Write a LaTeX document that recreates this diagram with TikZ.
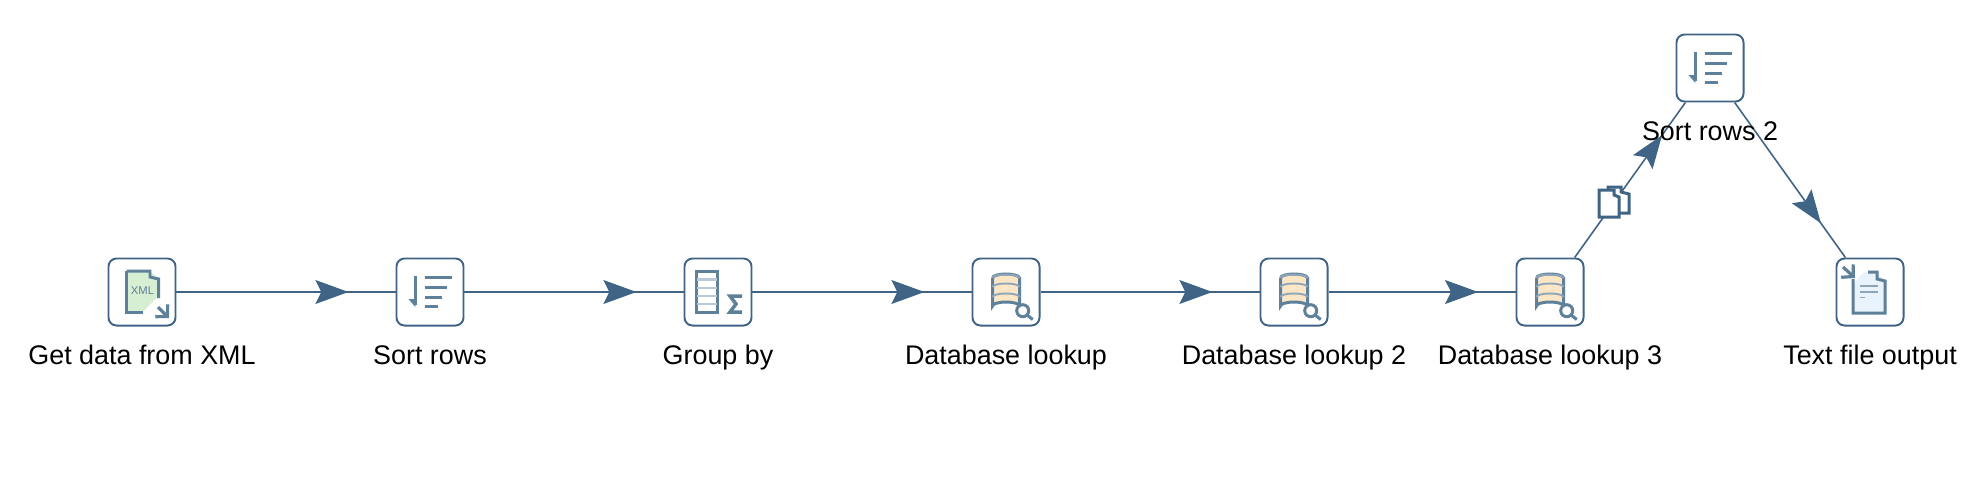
\documentclass[tikz,border=0pt]{standalone}
\usepackage{fontspec}
\setmainfont{Liberation Sans}
\usetikzlibrary{arrows.meta,decorations.markings}

\definecolor{stepblue}{HTML}{3F6485}
\definecolor{iconblue}{HTML}{5E8099}
\definecolor{iconpale}{HTML}{B9C9D6}
\definecolor{xmlgreen}{HTML}{D6EFD3}
\definecolor{dbcream}{HTML}{FCE6C6}
\definecolor{txtpale}{HTML}{E9F3FB}

\tikzset{
  stepbox/.style={draw=stepblue, line width=0.55pt, fill=white, rounded corners=2.3pt,
    minimum size=0.67cm, inner sep=0pt},
  steplabel/.style={anchor=base, inner sep=0pt, font=\fontsize{7.65}{9}\selectfont},
  hop/.style={draw=stepblue, line width=0.45pt, postaction={decorate},
    decoration={markings, mark=at position #1 with
      {\arrow[stepblue]{Stealth[length=9.4pt, width=6.8pt, inset=1.7pt]}}}},
  hop/.default=0.785,
  iconline/.style={draw=iconblue, line width=0.85pt},
  iconthin/.style={draw=iconblue!70, line width=0.55pt},
  sorticon/.pic={
    \draw[iconline] (-14.7,-16) -- (-14.7,13);
    \fill[iconblue] (-21.5,7) -- (-14.7,7) -- (-14.7,15) -- cycle;
    \draw[iconline] (-5,-14.3) -- (21.7,-14.3);
    \draw[iconline] (-5,-4.7) -- (16.7,-4.7);
    \draw[iconline] (-5,5) -- (11.7,5);
    \draw[iconline] (-5,14.7) -- (7.7,14.7);
  },
  dbicon/.pic={
    \fill[dbcream] (-13.5,-14) -- (-13.5,14) arc[start angle=180, end angle=360, x radius=13.5, y radius=4]
      -- (13.5,-14) arc[start angle=0, end angle=-180, x radius=13.5, y radius=4];
    \draw[iconline] (-13.5,-14) -- (-13.5,14) arc[start angle=180, end angle=360, x radius=13.5, y radius=4]
      -- (13.5,-14) arc[start angle=0, end angle=-180, x radius=13.5, y radius=4];
    \draw[iconthin] (-13.5,-14) arc[start angle=180, end angle=360, x radius=13.5, y radius=3.5];
    \draw[iconthin] (-13.5,-5) arc[start angle=180, end angle=360, x radius=13.5, y radius=3.5];
    \draw[iconthin] (-13.5,5) arc[start angle=180, end angle=360, x radius=13.5, y radius=3.5];
    \draw[iconline, fill=white] (16.7,18.7) circle (6);
    \draw[iconline] (21,23) -- (26.7,27.5);
  },
  copyicon/.pic={
    \draw[stepblue, line width=0.85pt, fill=white] (-6,-15) -- (7,-15) -- (7,-10) -- (15,-8) -- (15,11) -- (-6,11) -- cycle;
    \draw[stepblue, line width=0.85pt, fill=white] (-15,-12) -- (0,-12) -- (0,-7) -- (5,-5) -- (5,15) -- (-15,15) -- cycle;
  },
}

\begin{document}
\begin{tikzpicture}[x=0.01cm, y=-0.01cm]
\useasboundingbox (0,0) rectangle (1976,484);

\def\ya{68}
\def\yb{292}
\def\yc{364}

\node[stepbox](xml) at (142, \yb) {};
\node[stepbox](sorta) at (430, \yb) {};
\node[stepbox](groupby) at (718, \yb) {};
\node[stepbox](dba) at (1006, \yb) {};
\node[stepbox](dbb) at (1294, \yb) {};
\node[stepbox](dbc) at (1550, \yb) {};
\node[stepbox](sortb) at (1710, \ya) {};
\node[stepbox](txt) at (1870, \yb) {};

\draw[hop] (xml) -- (sorta);
\draw[hop] (sorta) -- (groupby);
\draw[hop] (groupby) -- (dba);
\draw[hop] (dba) -- (dbb);
\draw[hop=0.80] (dbb) -- (dbc);
\draw[hop=0.79] (dbc) -- (sortb);
\draw[hop=0.78] (sortb) -- (txt);

\coordinate (copy) at (1614, 202);
\pic at (copy) {copyicon};

% xml input
\fill[xmlgreen] (127,271) -- (150,271) -- (158.5,279) -- (158.5,296) -- (142,312.5) -- (127,312.5) -- cycle;
\draw[iconline] (126.7,271) -- (126.7,312.7) -- (143,312.7);
\draw[iconline] (126.7,271) -- (150,271) -- (150,277) -- (158.7,279) -- (158.7,298);
\node[inner sep=0pt, text=iconblue, font=\fontsize{3.2}{4}\selectfont](xmltxt) at (142.5, 291) {XML};
\draw[draw=iconblue, line width=0.9pt, -{Straight Barb[length=2.4pt, width=5pt]}] (158,307) -- (169,318);

\pic at (sorta) {sorticon};
\pic at (sortb) {sorticon};

% group by
\draw[iconline, fill=white] (696,271.5) rectangle (717.5,312);
\foreach \yrow in {279.5, 288, 296, 304}
  \draw[draw=iconpale, line width=0.7pt] (697, \yrow) -- (716.5, \yrow);
\draw[iconline, line width=1pt] (742,296) -- (730,296) -- (736,304) -- (730,312) -- (742,312);

\pic at (dba) {dbicon};
\pic at (dbb) {dbicon};
\pic at (dbc) {dbicon};

% text output
\fill[txtpale] (1853,284) -- (1864,272) -- (1877,272) -- (1885,281) -- (1885,312) -- (1853,312) -- cycle;
\draw[iconline] (1853,279) -- (1853,313) -- (1885,313) -- (1885,281) -- (1877,279) -- (1877,272) -- (1868,272);
\draw[iconthin] (1860,286) -- (1878,286);
\draw[iconthin] (1860,292) -- (1878,292);
\draw[iconthin] (1860,297.5) -- (1865,297.5);
\draw[draw=iconblue, line width=0.9pt, -{Straight Barb[length=2.4pt, width=5pt]}] (1843,267) -- (1855,278);

\node[steplabel](xmllab) at (142, \yc) {Get data from XML};
\node[steplabel](sortalab) at (430, \yc) {Sort rows};
\node[steplabel](groupbylab) at (718, \yc) {Group by};
\node[steplabel](dbalab) at (1006, \yc) {Database lookup};
\node[steplabel](dbblab) at (1294, \yc) {Database lookup 2};
\node[steplabel](dbclab) at (1550, \yc) {Database lookup 3};
\node[steplabel](sortblab) at (1710, 140) {Sort rows 2};
\node[steplabel](txtlab) at (1870, \yc) {Text file output};

\end{tikzpicture}
\end{document}
